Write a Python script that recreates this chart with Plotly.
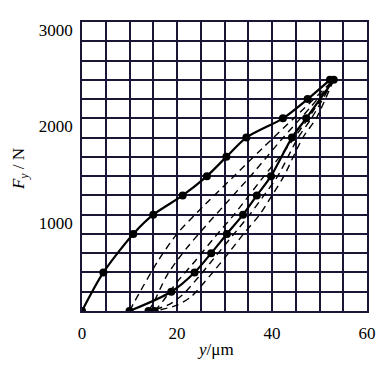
import plotly.graph_objects as go

# Solid loading curve (first loading)
load_x = [0, 4.5, 10.8, 15, 21.2, 26.3, 30.4, 34.6, 42.3, 47.5, 52.2]
load_y = [0, 400, 800, 1000, 1200, 1400, 1600, 1800, 2000, 2200, 2400]

# Solid unloading curve
unload_x = [53, 47.2, 44.2, 39.8, 36.8, 33.9, 30.5, 27.2, 23.7, 18.8, 10]
unload_y = [2400, 2000, 1800, 1400, 1200, 1000, 800, 600, 400, 200, 0]

# Dashed reloading curves
reload1_x = [10, 12, 16, 20, 26, 32, 38, 45, 53]
reload1_y = [0, 180, 520, 800, 1110, 1400, 1690, 2020, 2400]
reload2_x = [14, 15, 18, 22, 26, 30, 36, 42, 48, 53]
reload2_y = [0, 80, 380, 650, 880, 1100, 1430, 1780, 2110, 2400]
reload3_x = [15.3, 17, 20, 24, 28, 32, 38, 44, 49, 53]
reload3_y = [0, 100, 300, 530, 770, 1000, 1380, 1750, 2100, 2400]

# Dashed unloading curves
unload1_x = [53, 48.3, 45.5, 41.2, 38.3, 35.3, 32, 28.5, 25, 21, 18, 14]
unload1_y = [2400, 2000, 1800, 1400, 1200, 1000, 800, 590, 380, 160, 60, 0]
unload2_x = [53, 49.3, 46.5, 42.5, 40, 37.4, 34, 30.5, 27, 23, 20, 15.3]
unload2_y = [2400, 2000, 1800, 1400, 1200, 1000, 800, 580, 370, 150, 60, 0]

# Residual deformation points
resid_x = [14, 15.3]
resid_y = [0, 0]

x_ticks = [0, 20, 40, 60]
y_ticks = [1000, 2000, 3000]

fig = go.Figure()

dash_style = dict(color="black", width=1.4, dash="7px,5px", shape="spline", smoothing=0.8)
for xs, ys in [(reload1_x, reload1_y), (reload2_x, reload2_y), (reload3_x, reload3_y),
               (unload1_x, unload1_y), (unload2_x, unload2_y)]:
    fig.add_trace(go.Scatter(x=xs, y=ys, mode="lines", line=dash_style,
                             hoverinfo="skip", showlegend=False))

solid_style = dict(color="black", width=2.2, shape="spline", smoothing=0.8)
marker_style = dict(color="black", size=8)
fig.add_trace(go.Scatter(x=load_x, y=load_y, mode="lines+markers",
                         line=solid_style, marker=marker_style, showlegend=False))
fig.add_trace(go.Scatter(x=unload_x, y=unload_y, mode="lines+markers",
                         line=solid_style, marker=marker_style, showlegend=False))
fig.add_trace(go.Scatter(x=resid_x, y=resid_y, mode="markers",
                         marker=marker_style, showlegend=False))

grid_color = "#1c1535"
font_family = "Liberation Serif"

fig.update_xaxes(range=[0, 60], tickvals=x_ticks, ticktext=[str(v) for v in x_ticks],
                 showgrid=True, gridcolor=grid_color, gridwidth=1.5,
                 minor=dict(dtick=5, showgrid=True, gridcolor=grid_color, gridwidth=1.5),
                 showline=True, linecolor=grid_color, linewidth=1.5, mirror=True,
                 zeroline=False, ticks="", ticklabelstandoff=6, automargin=False,
                 ticklabeloverflow="allow",
                 tickfont=dict(family=font_family, size=17, color="black"))
fig.update_yaxes(range=[0, 3000], tickvals=y_ticks, ticktext=[str(v) for v in y_ticks],
                 showgrid=True, gridcolor=grid_color, gridwidth=1.5,
                 minor=dict(dtick=200, showgrid=True, gridcolor=grid_color, gridwidth=1.5),
                 showline=True, linecolor=grid_color, linewidth=1.5, mirror=True,
                 zeroline=False, ticks="", ticklabelstandoff=4, ticklabelshift=8,
                 automargin=False, ticklabeloverflow="allow",
                 tickfont=dict(family=font_family, size=17, color="black"))

fig.add_annotation(text="<i>y</i>/μm", xref="paper", yref="paper", x=0.47, y=-0.095,
                   xanchor="center", yanchor="top", showarrow=False,
                   font=dict(family=font_family, size=17, color="black"))
fig.add_annotation(text="<i>F</i><sub><i>y</i></sub> / N", xref="paper", yref="paper",
                   x=-0.215, y=0.49, xanchor="center", yanchor="middle", showarrow=False,
                   textangle=-90, font=dict(family=font_family, size=17, color="black"))

fig.update_layout(width=378, height=358,
                  margin=dict(l=74, r=19, t=14, b=55),
                  plot_bgcolor="white", paper_bgcolor="white")

fig.write_html("out.html")
